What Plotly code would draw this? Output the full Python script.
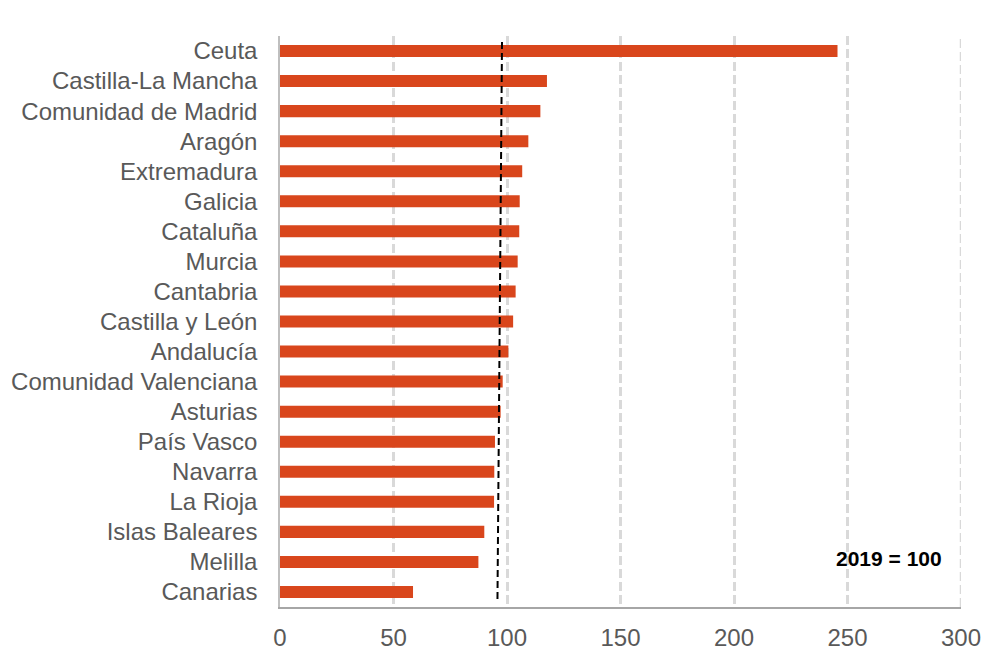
import plotly.graph_objects as go

regions = ["Ceuta", "Castilla-La Mancha", "Comunidad de Madrid", "Aragón", "Extremadura",
           "Galicia", "Cataluña", "Murcia", "Cantabria", "Castilla y León", "Andalucía",
           "Comunidad Valenciana", "Asturias", "País Vasco", "Navarra", "La Rioja",
           "Islas Baleares", "Melilla", "Canarias"]
values = [245.6, 117.6, 114.7, 109.4, 106.7, 105.6, 105.4, 104.7, 103.8, 102.7, 100.6,
          98.1, 97.2, 94.7, 94.4, 94.3, 90.0, 87.4, 58.6]
ref_line_x = [95.8, 97.8]
ref_line_y = [0.014, 0.99]
x_ticks = [0, 50, 100, 150, 200, 250, 300]
x_max = 300
note = "2019 = 100"

grid_color = "#D9D9D9"
grid_dash = "9px,4px"

fig = go.Figure()
fig.add_trace(go.Bar(
    y=regions, x=values, orientation="h",
    marker=dict(color="#D9461C", line=dict(width=0)),
    width=0.4, showlegend=False, hoverinfo="x+y"))
fig.add_trace(go.Scatter(
    x=ref_line_x, y=ref_line_y, yaxis="y2", mode="lines",
    line=dict(color="black", width=2, dash="7px,4px"), showlegend=False, hoverinfo="skip"))

# gridline at the right edge of the axis range (Plotly omits it)
fig.add_shape(type="line", xref="x", yref="paper", x0=x_max, x1=x_max, y0=0, y1=1,
              line=dict(color=grid_color, width=2.5, dash=grid_dash), layer="below")

fig.update_layout(
    width=1000, height=653,
    margin=dict(l=272, r=47, t=28, b=54),
    plot_bgcolor="white", paper_bgcolor="white",
    font=dict(family="Liberation Sans, Arial, sans-serif", size=24, color="#595959"),
    bargap=0.6,
    xaxis=dict(range=[0, x_max], tickvals=x_ticks, ticks="", showgrid=True,
               gridcolor=grid_color, gridwidth=2.5, griddash=grid_dash,
               showline=True, linecolor="#A6A6A6", linewidth=2, zeroline=False,
               tickfont=dict(size=24, color="#595959"), ticklabelstandoff=8,
               automargin=False),
    yaxis=dict(type="category", categoryorder="array", categoryarray=regions,
               autorange="reversed", showgrid=False, ticks="",
               showline=True, linecolor="#BFBFBF", linewidth=1.5,
               tickfont=dict(size=24, color="#595959"), ticklabelstandoff=16,
               automargin=False),
    yaxis2=dict(overlaying="y", range=[0, 1], visible=False),
    annotations=[dict(text="<b>" + note + "</b>", xref="paper", yref="paper",
                      x=0.894, y=0.0858, xanchor="center", yanchor="middle",
                      showarrow=False, font=dict(size=21, color="black"))],
)

fig.write_html("out.html")
